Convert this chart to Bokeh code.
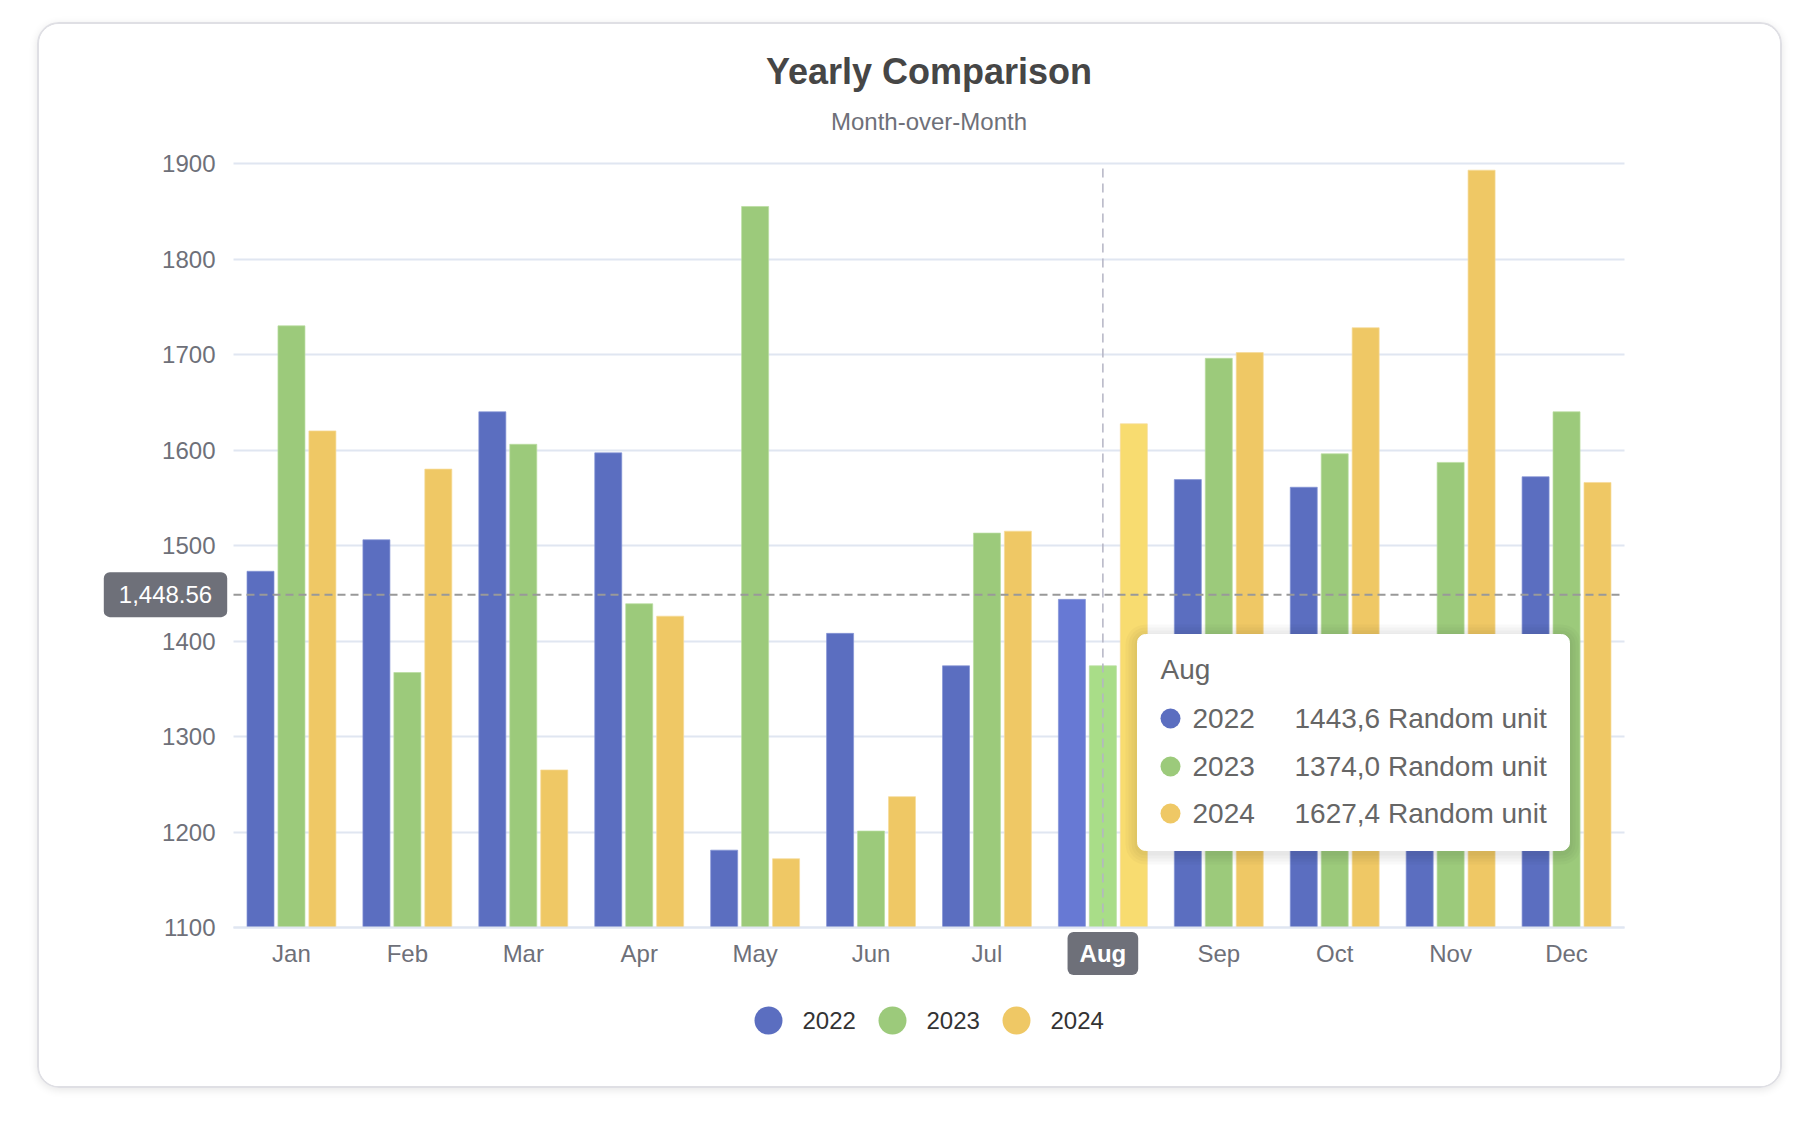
from bokeh.plotting import figure
from bokeh.models import (Range1d, FixedTicker, Label, BoxAnnotation, ColumnDataSource,
                          LinearAxis, Grid)
from bokeh.embed import file_html
from bokeh.resources import INLINE

# ---------------- data ----------------
months = ["Jan", "Feb", "Mar", "Apr", "May", "Jun", "Jul", "Aug", "Sep", "Oct", "Nov", "Dec"]
years = ["2022", "2023", "2024"]
v2022 = [1473, 1506, 1640, 1597, 1181, 1408, 1374, 1443.6, 1569, 1561, 1345, 1572]
v2023 = [1730, 1367, 1606, 1439, 1855, 1201, 1513, 1374.0, 1696, 1596, 1587, 1640]
v2024 = [1620, 1580, 1265, 1426, 1172, 1237, 1515, 1627.4, 1702, 1728, 1893, 1566]
y_ticks = [1100, 1200, 1300, 1400, 1500, 1600, 1700, 1800, 1900]
unit = "Random unit"
pointer_month = "Aug"
pointer_value = 1448.56
title_text = "Yearly Comparison"
subtitle_text = "Month-over-Month"

series = [v2022, v2023, v2024]
base_colors = ["#5b6ec0", "#9cca7b", "#efc865"]
hi_colors = ["#6779d4", "#a9dd88", "#f8dc70"]
edge_colors = ["#8594d6", "#b9dda0", "#f6dc9a"]

FONT = "Liberation Sans"
AXIS_COLOR = "#6e7079"
GRID_COLOR = "#e0e6f1"

n = len(months)
y_min, y_max = y_ticks[0], y_ticks[-1]

# page-pixel -> data helpers (plot area at page px 234..1625 x 164..928)
FX0, FX1, FY0, FY1 = 234, 1625, 164, 928
def X(px):
    return (px - FX0) / (FX1 - FX0) * n
def Y(py):
    return y_max - (py - FY0) / (FY1 - FY0) * (y_max - y_min)

# card content area on the page
CL, CT, CR, CB = 40, 25, 1785, 1091
W, H = CR - CL, CB - CT

p = figure(width=W, height=H, x_range=Range1d(X(CL), X(CR)), y_range=Range1d(Y(CB), Y(CT)),
           output_backend="svg", toolbar_location=None,
           x_axis_location=None, y_axis_location=None,
           min_border_left=0, min_border_right=0, min_border_top=0, min_border_bottom=0,
           outline_line_color=None, background_fill_color="white", border_fill_color="white")
p.margin = (22, 0, 0, 37)
p.styles = {"border": "2px solid #dfdfe4", "border-radius": "22px", "overflow": "hidden",
            "box-shadow": "0 2px 8px rgba(0,0,0,0.10)"}
p.xgrid.visible = False
p.ygrid.visible = False

# ---------------- grid ----------------
if "cross_bounds" in Grid.properties():
    g = Grid(dimension=1, ticker=FixedTicker(ticks=y_ticks), bounds=(y_min, y_max),
             cross_bounds=(0, n), grid_line_color=GRID_COLOR, grid_line_width=2)
    p.add_layout(g)
else:
    p.segment(x0=[0] * len(y_ticks), x1=[n] * len(y_ticks), y0=y_ticks, y1=y_ticks,
              line_color=GRID_COLOR, line_width=2, level="underlay")

# ---------------- bars ----------------
step, bw = 0.267, 0.233
hi_idx = months.index(pointer_month)
for j, vals in enumerate(series):
    xs = [i + 0.5 + (j - 1) * step for i in range(n)]
    cols = [hi_colors[j] if i == hi_idx else base_colors[j] for i in range(n)]
    src = ColumnDataSource(dict(x=xs, top=vals, color=cols))
    p.vbar(x="x", top="top", bottom=y_min, width=bw, source=src,
           fill_color="color", line_color=edge_colors[j], line_width=1, line_alpha=0.7)

# ---------------- axes ----------------
tick_pos = [i + 0.5 for i in range(n)]
xaxis = LinearAxis(fixed_location=y_min, ticker=FixedTicker(ticks=tick_pos), bounds=(0, n))
xaxis.major_label_overrides = {t: ("" if m == pointer_month else m) for t, m in zip(tick_pos, months)}
xaxis.axis_line_color = GRID_COLOR
xaxis.axis_line_width = 2
xaxis.major_label_standoff = 12
yaxis = LinearAxis(fixed_location=0, ticker=FixedTicker(ticks=y_ticks), bounds=(y_min, y_max))
yaxis.axis_line_color = None
yaxis.major_label_standoff = 18
for ax in (xaxis, yaxis):
    ax.major_tick_line_color = None
    ax.minor_tick_line_color = None
    ax.major_tick_out = 0
    ax.minor_tick_out = 0
    ax.major_label_text_font = FONT
    ax.major_label_text_font_size = "24px"
    ax.major_label_text_color = AXIS_COLOR
p.add_layout(xaxis, "below")
p.add_layout(yaxis, "left")

# ---------------- crosshair ----------------
cx = hi_idx + 0.5
p.segment(x0=[cx], x1=[cx], y0=[y_min], y1=[y_max], line_color="#b4b4c4",
          line_width=1.5, line_dash="9 6")
p.segment(x0=[0], x1=[n], y0=[pointer_value], y1=[pointer_value], line_color="#999999",
          line_width=2, line_dash="8 5")
# padding tuple here is (horizontal, vertical)
p.add_layout(Label(x=X(166), y=pointer_value, text=f"{pointer_value:,.2f}", text_align="center",
                   text_baseline="middle", text_color="white", text_font=FONT, text_font_size="24px",
                   background_fill_color="#6e7079", border_radius=6, padding=(15, 14)))
p.add_layout(Label(x=cx, y=Y(954), text=pointer_month, text_align="center",
                   text_baseline="middle", text_color="white", text_font=FONT, text_font_size="24px",
                   text_font_style="bold",
                   background_fill_color="#6e7079", border_radius=6, padding=(12, 8)))

# ---------------- title ----------------
p.add_layout(Label(x=n / 2, y=Y(72), text=title_text, text_align="center", text_baseline="middle",
                   text_font=FONT, text_font_size="36px", text_font_style="bold", text_color="#464646"))
p.add_layout(Label(x=n / 2, y=Y(122), text=subtitle_text, text_align="center", text_baseline="middle",
                   text_font=FONT, text_font_size="24px", text_color=AXIS_COLOR))

# ---------------- tooltip ----------------
tl, tr, tt, tb = 1138, 1570, 635, 851
for k in range(1, 5):
    e = 3 * k
    p.add_layout(BoxAnnotation(left=X(tl - e), right=X(tr + e), top=Y(tt - e + 2), bottom=Y(tb + e + 2),
                               fill_color="black", fill_alpha=0.022, line_color=None,
                               border_radius=8 + e))
p.add_layout(BoxAnnotation(left=X(tl), right=X(tr), top=Y(tt), bottom=Y(tb), fill_color="white",
                           fill_alpha=1.0, line_color="#ffffff", line_alpha=1.0, border_radius=8))
p.add_layout(Label(x=X(1161), y=Y(670), text=pointer_month, text_baseline="middle", text_font=FONT,
                   text_font_size="28px", text_color="#666666", level="overlay"))
row_y = [719, 767, 814]
for j, (yr, vals) in enumerate(zip(years, series)):
    r = p.scatter(x=[X(1171)], y=[Y(row_y[j])], size=20, marker="circle",
                  fill_color=base_colors[j], line_color=None)
    r.level = "overlay"
    p.add_layout(Label(x=X(1193), y=Y(row_y[j]), text=yr, text_baseline="middle", text_font=FONT,
                       text_font_size="28px", text_color="#666666", level="overlay"))
    val_txt = f"{vals[hi_idx]:.1f}".replace(".", ",") + " " + unit
    p.add_layout(Label(x=X(1295), y=Y(row_y[j]), text=val_txt, text_baseline="middle", text_font=FONT,
                       text_font_size="28px", text_color="#666666", level="overlay"))

# ---------------- legend ----------------
leg_y = Y(1021)
leg_x0, leg_gap = 769, 124
for j, yr in enumerate(years):
    cxp = leg_x0 + j * leg_gap
    p.scatter(x=[X(cxp)], y=[leg_y], size=28, marker="circle", fill_color=base_colors[j], line_color=None)
    p.add_layout(Label(x=X(cxp + 34), y=leg_y, text=yr, text_baseline="middle", text_font=FONT,
                       text_font_size="24px", text_color="#333333"))

open("out.html", "w").write(file_html(p, INLINE))
